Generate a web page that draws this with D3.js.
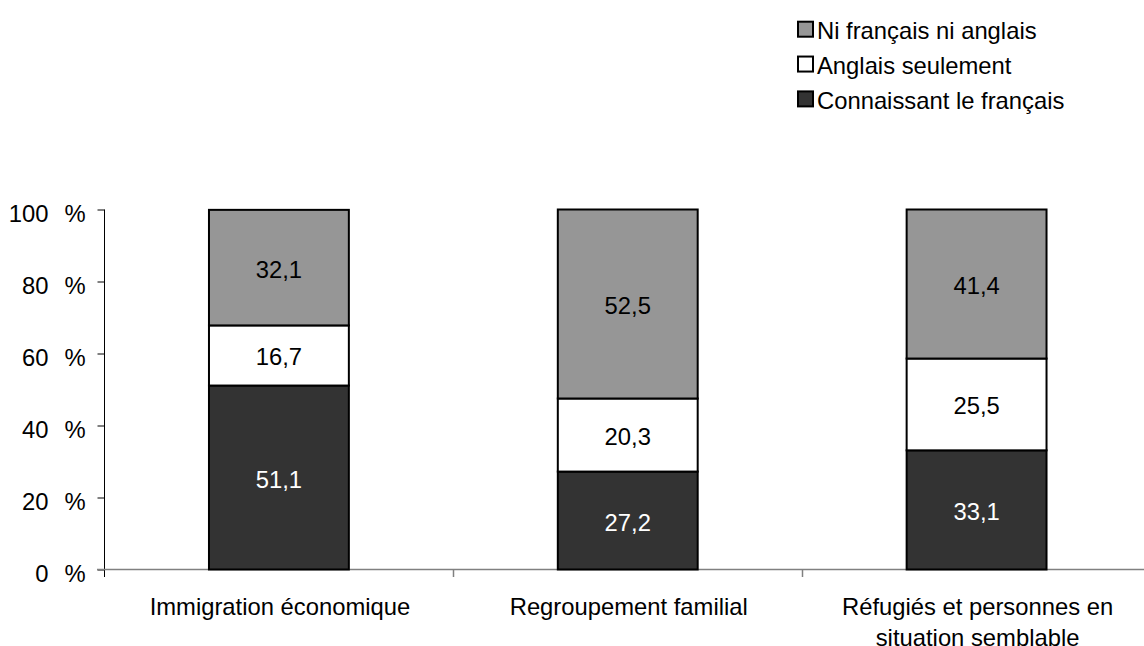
<!DOCTYPE html>
<html><head><meta charset="utf-8">
<script src="https://cdn.jsdelivr.net/npm/d3@7"></script>
<style>body{margin:0;background:#fff;}text{font-family:"Liberation Sans",Arial,sans-serif;}</style>
</head><body>
<svg id="chart" width="1144" height="646"></svg>
<script>
const categories = [["Immigration économique"], ["Regroupement familial"], ["Réfugiés et personnes en", "situation semblable"]];
const seriesNames = ["Connaissant le français", "Anglais seulement", "Ni français ni anglais"];
const connaissant = [51.1, 27.2, 33.1];
const anglais = [16.7, 20.3, 25.5];
const ni = [32.1, 52.5, 41.4];
const yTicks = [0, 20, 40, 60, 80, 100];
const colors = ["#333333", "#ffffff", "#969696"];
const labelColors = ["#ffffff", "#000000", "#000000"];
const FS = 23.8;

const svg = d3.select("#chart");
const x = d3.scaleBand().domain(d3.range(categories.length)).range([104.5, 1151]).paddingInner(0).paddingOuter(0);
const y = d3.scaleLinear().domain([0, 100]).range([569.5, 209.5]);

const seriesVals = [connaissant, anglais, ni];
const bw = x.bandwidth() * 0.401;

// y axis
const yAxis = svg.append("g").attr("transform", "translate(104.5,0)")
  .call(d3.axisLeft(y).tickValues(yTicks).tickSize(7).tickFormat(d => d));
yAxis.select(".domain").attr("d", "M0," + y(100) + "V577").attr("stroke", "#000");
yAxis.selectAll(".tick line").attr("stroke", "#000");
yAxis.selectAll(".tick text").attr("x", -56).attr("dy", "0.5em").attr("font-size", FS).attr("fill", "#000")
  .style("font-family", "Liberation Sans, Arial, sans-serif");
yAxis.selectAll(".tick").append("text").attr("x", -40).attr("dy", "0.5em").attr("text-anchor", "start")
  .attr("font-size", FS).attr("fill", "#000").style("font-family", "Liberation Sans, Arial, sans-serif").text("%");

// x axis
svg.append("line").attr("x1", 97).attr("x2", 1144).attr("y1", y(0)).attr("y2", y(0)).attr("stroke", "#808080").attr("stroke-width", 1.5);
d3.range(1, categories.length).forEach(i => {
  const xx = Math.round(x(i)) + 0.5;
  svg.append("line").attr("x1", xx).attr("x2", xx).attr("y1", y(0)).attr("y2", 577).attr("stroke", "#808080").attr("stroke-width", 1.5);
});

// bars
categories.forEach((c, i) => {
  const cx = x(i) + x.bandwidth() / 2;
  let cum = 0;
  seriesVals.forEach((vals, s) => {
    const v = vals[i];
    const y0 = y(cum), y1 = y(cum + v);
    svg.append("rect").attr("x", cx - bw / 2).attr("y", y1).attr("width", bw).attr("height", y0 - y1)
      .attr("fill", colors[s]).attr("stroke", "#000").attr("stroke-width", 2);
    svg.append("text").attr("x", cx).attr("y", (y0 + y1) / 2).attr("dy", "0.42em").attr("text-anchor", "middle")
      .attr("font-size", FS).attr("fill", labelColors[s]).text(String(v).replace(".", ","));
    cum += v;
  });
  const t = svg.append("text").attr("x", cx + 1).attr("y", 615).attr("text-anchor", "middle").attr("font-size", FS).attr("fill", "#000");
  c.forEach((line, k) => t.append("tspan").attr("x", cx + 1).attr("dy", k === 0 ? 0 : 30.5).text(line));
});

// legend
const legendOrder = [2, 1, 0];
legendOrder.forEach((s, k) => {
  const base = 39.3 + k * 34.85;
  svg.append("rect").attr("x", 798).attr("y", base - 17.6).attr("width", 15).attr("height", 15)
    .attr("fill", colors[s]).attr("stroke", "#000").attr("stroke-width", 2);
  svg.append("text").attr("x", 817).attr("y", base).attr("font-size", FS).attr("fill", "#000").text(seriesNames[s]);
});
</script>
</body></html>
